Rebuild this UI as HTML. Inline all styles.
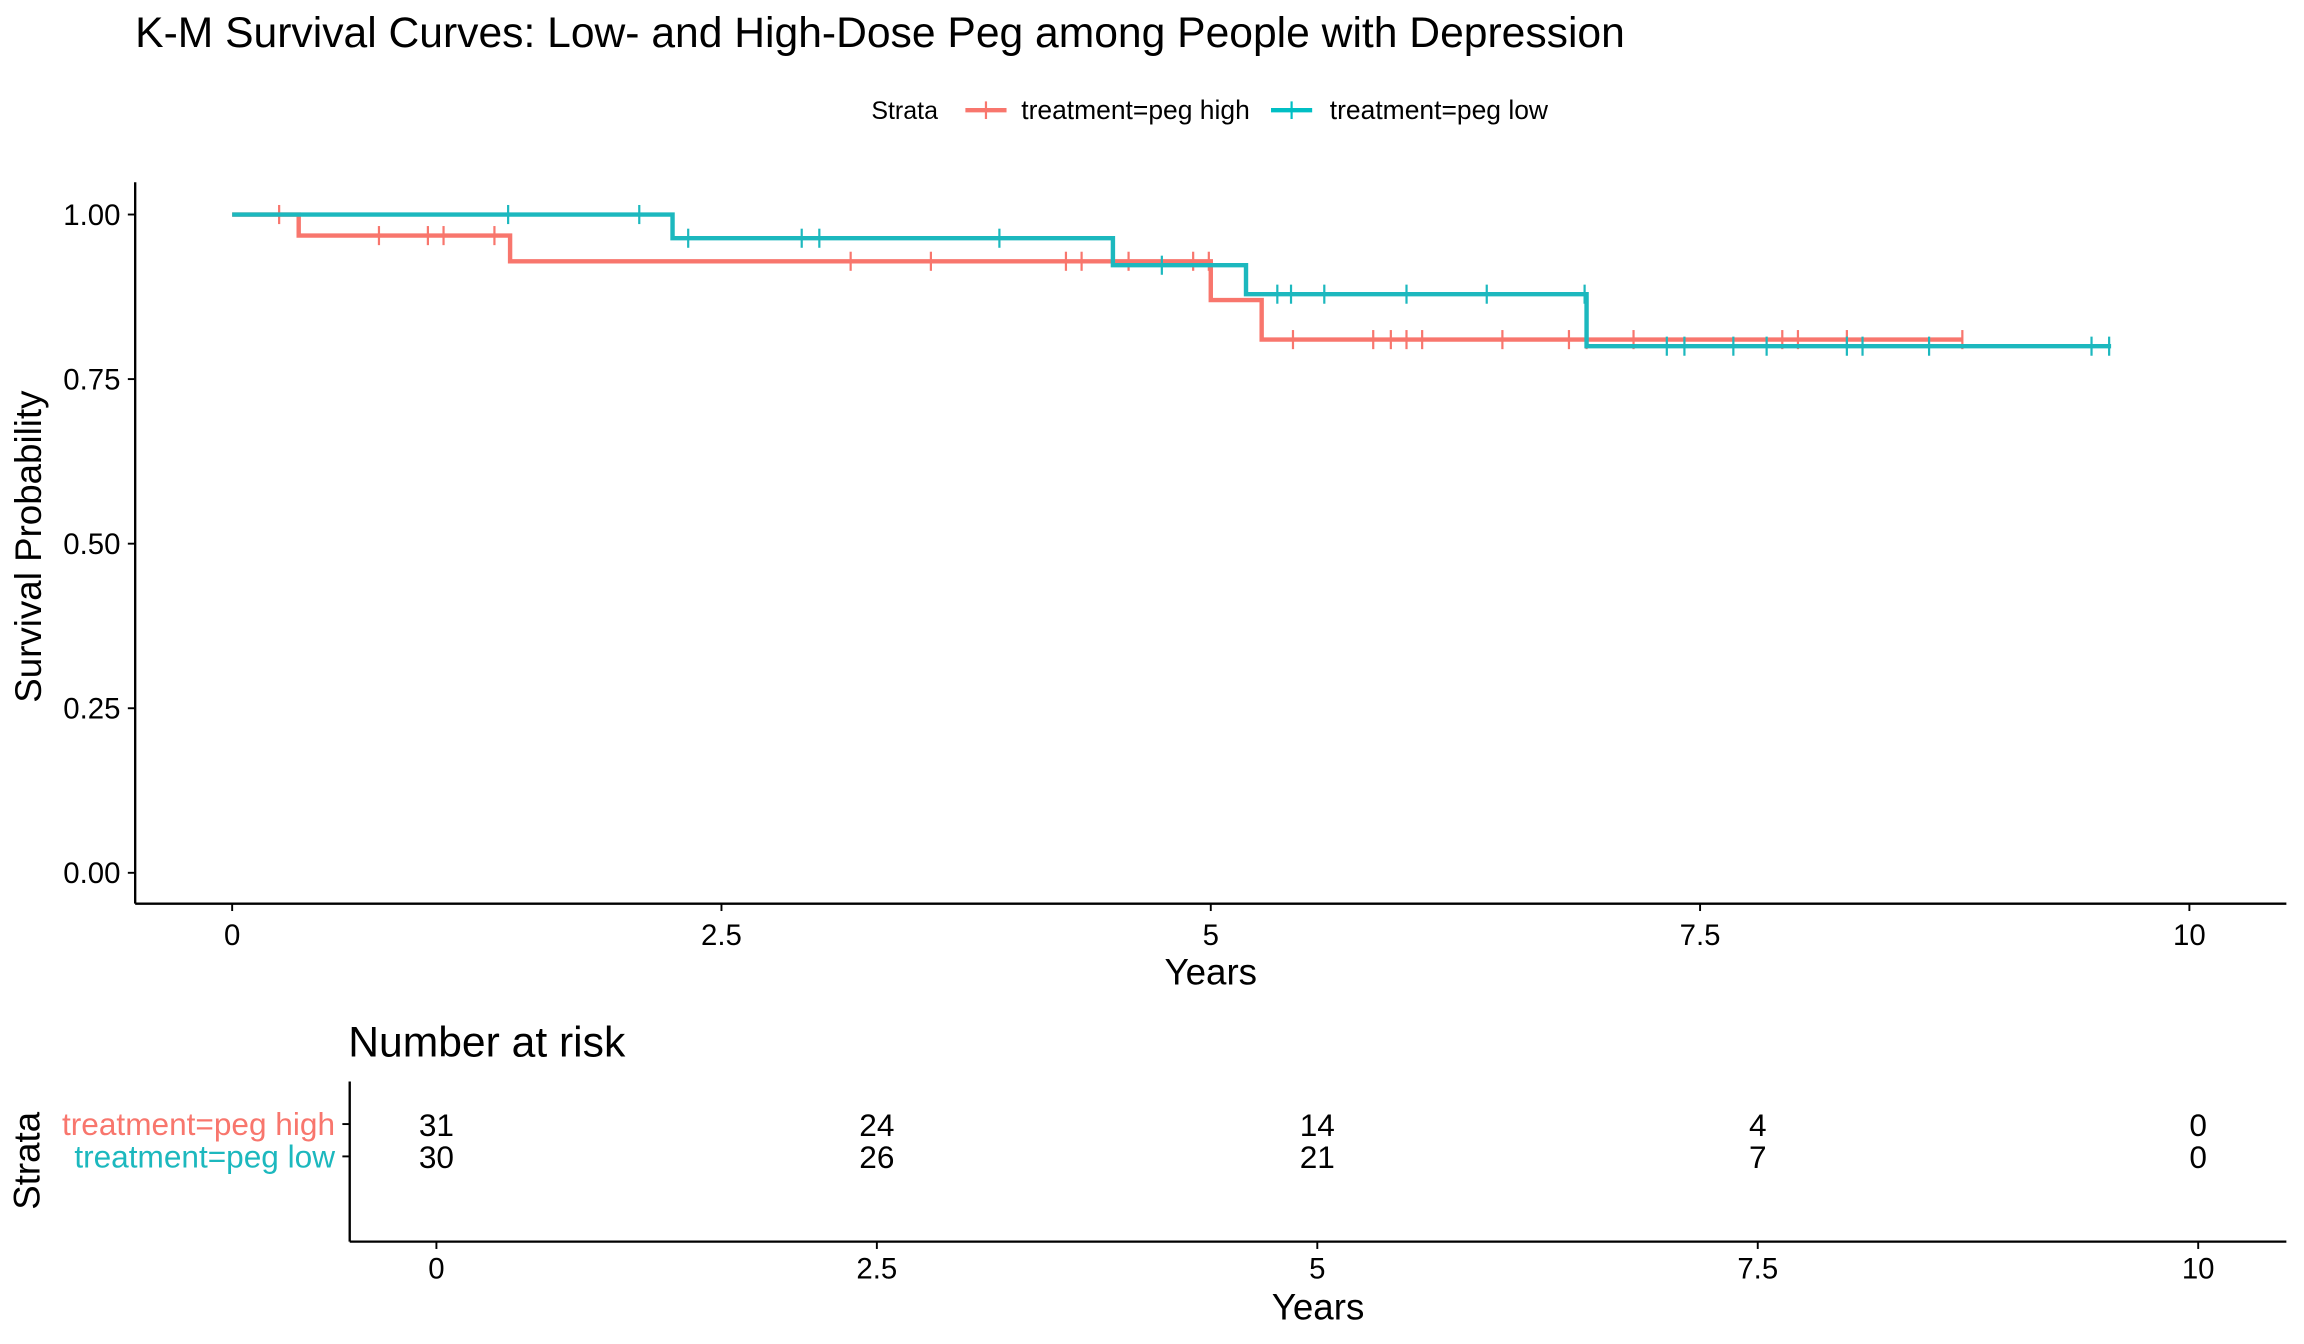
<!DOCTYPE html>
<html><head><meta charset="utf-8"><style>html,body{margin:0;padding:0;background:#fff}svg{display:block}text{font-family:"Liberation Sans",Arial,sans-serif}</style></head>
<body>
<svg id="chart" width="2304" height="1344" viewBox="0 0 1568 914.67" preserveAspectRatio="none" xmlns="http://www.w3.org/2000/svg">
<text x="92" y="32" font-size="29">K-M Survival Curves: Low- and High-Dose Peg among People with Depression</text>
<g>
<text x="593" y="81" font-size="17">Strata</text>
<g><line x1="657" y1="75" x2="685" y2="75" stroke="#F8766D" stroke-width="3"/><line x1="671" y1="69" x2="671" y2="81" stroke="#F8766D" stroke-width="1.5"/><text x="695" y="81" font-size="18">treatment=peg high</text></g>
<g><line x1="865" y1="75" x2="893" y2="75" stroke="#00BFC4" stroke-width="3"/><line x1="879" y1="69" x2="879" y2="81" stroke="#00BFC4" stroke-width="1.5"/><text x="905" y="81" font-size="18">treatment=peg low</text></g>
</g>
<g id="main"></g>
<g id="risk"></g>
</svg>
<script>
const ticksX=[0,2.5,5,7.5,10];
const tickXLabels=["0","2.5","5","7.5","10"];
const ticksY=[0,0.25,0.5,0.75,1];
const tickYLabels=["0.00","0.25","0.50","0.75","1.00"];
const highTimes=[0,0.34,1.42,5.0,5.26];
const highSurv=[1,0.968,0.929,0.870,0.810];
const highEnd=8.84;
const highCensor=[0.24,0.75,1.0,1.08,1.34,3.16,3.57,4.26,4.34,4.58,4.91,4.99,5.42,5.83,5.92,6.0,6.08,6.49,6.83,6.92,7.16,7.92,8.0,8.25,8.84];
const lowTimes=[0,2.25,4.5,5.18,6.92];
const lowSurv=[1,0.964,0.923,0.879,0.800];
const lowEnd=9.6;
const lowCensor=[1.41,2.08,2.33,2.91,3.0,3.92,4.75,5.34,5.41,5.58,6.0,6.41,6.91,7.33,7.42,7.67,7.84,8.25,8.33,8.67,9.5,9.59];
const riskHigh=[31,24,14,4,0];
const riskLow=[30,26,21,7,0];
const riskTimes=[0,2.5,5,7.5,10];

const NS="http://www.w3.org/2000/svg";
function mk(tag,attrs,parent,txt){const e=document.createElementNS(NS,tag);for(const k in attrs)e.setAttribute(k,attrs[k]);if(txt!==undefined)e.textContent=txt;parent.appendChild(e);return e;}
const xs=t=>158+t*133.2;
const ys=s=>594-s*448;
const xr=t=>297+t*119.9;
const main=document.getElementById('main');
let ax=mk('line',{x1:92,y1:124,x2:92,y2:615,stroke:'#000','stroke-width':1.6},main);


ax=mk('line',{x1:92,y1:615,x2:1556,y2:615,stroke:'#000','stroke-width':1.6},main);


ticksY.forEach((v,i)=>{
 mk('line',{x1:87,y1:ys(v),x2:92,y2:ys(v),stroke:'#000','stroke-width':1.3},main);
 const t=mk('text',{x:82,y:ys(v)+7,'font-size':20,'text-anchor':'end'},main,tickYLabels[i]);
 
 
});
ticksX.forEach((v,i)=>{
 mk('line',{x1:xs(v),y1:615,x2:xs(v),y2:620,stroke:'#000','stroke-width':1.3},main);
 const t=mk('text',{x:xs(v),y:643,'font-size':20,'text-anchor':'middle'},main,tickXLabels[i]);
 
 
});
let tt=mk('text',{x:824,y:670,'font-size':25,'text-anchor':'middle'},main,'Years');


tt=mk('text',{x:28,y:372,'font-size':25,'text-anchor':'middle',transform:'rotate(-90 28 372)'},main,'Survival Probability');


function stepPath(times,surv,end){
 let d='M'+xs(times[0])+','+ys(surv[0]);
 for(let i=1;i<times.length;i++){d+=' H'+xs(times[i])+' V'+ys(surv[i]);}
 d+=' H'+xs(end);return d;
}
function survAt(times,surv,t){let s=surv[0];for(let i=0;i<times.length;i++){if(times[i]<=t)s=surv[i];}return s;}
function drawCurve(times,surv,end,cens,color,name){
 const p=mk('path',{d:stepPath(times,surv,end),fill:'none',stroke:color,'stroke-width':3},main);
 
 
 cens.forEach(c=>{
  const y=ys(survAt(times,surv,c));
  const l=mk('line',{x1:xs(c),y1:y-6.5,x2:xs(c),y2:y+6.5,stroke:color,'stroke-width':1.5},main);
  
  
 });
}
drawCurve(highTimes,highSurv,highEnd,highCensor,'#F8766D','peg-high');
drawCurve(lowTimes,lowSurv,lowEnd,lowCensor,'#1CB8BE','peg-low');
const risk=document.getElementById('risk');
tt=mk('text',{x:237,y:719,'font-size':29},risk,'Number at risk');


mk('line',{x1:238,y1:736,x2:238,y2:845,stroke:'#000','stroke-width':1.6},risk);
mk('line',{x1:238,y1:845,x2:1556,y2:845,stroke:'#000','stroke-width':1.6},risk);
const rows=[[riskHigh,765,'#F8766D','treatment=peg high'],[riskLow,787,'#1CB8BE','treatment=peg low']];
rows.forEach(([vals,y,col,lab])=>{
 mk('line',{x1:233,y1:y,x2:238,y2:y,stroke:'#000','stroke-width':1.3},risk);
 const l=mk('text',{x:228,y:y+7.5,'font-size':21.5,'text-anchor':'end',fill:col},risk,lab);
 
 
 vals.forEach((v,i)=>{
  const t=mk('text',{x:xr(riskTimes[i]),y:y+8,'font-size':21.5,'text-anchor':'middle'},risk,String(v));
  
  
 });
});
ticksX.forEach((v,i)=>{
 mk('line',{x1:xr(v),y1:845,x2:xr(v),y2:850,stroke:'#000','stroke-width':1.3},risk);
 const t=mk('text',{x:xr(v),y:870,'font-size':20,'text-anchor':'middle'},risk,tickXLabels[i]);
 
 
});
tt=mk('text',{x:897,y:898,'font-size':25,'text-anchor':'middle'},risk,'Years');


tt=mk('text',{x:27,y:790,'font-size':25,'text-anchor':'middle',transform:'rotate(-90 27 790)'},risk,'Strata');


</script>
</body></html>
